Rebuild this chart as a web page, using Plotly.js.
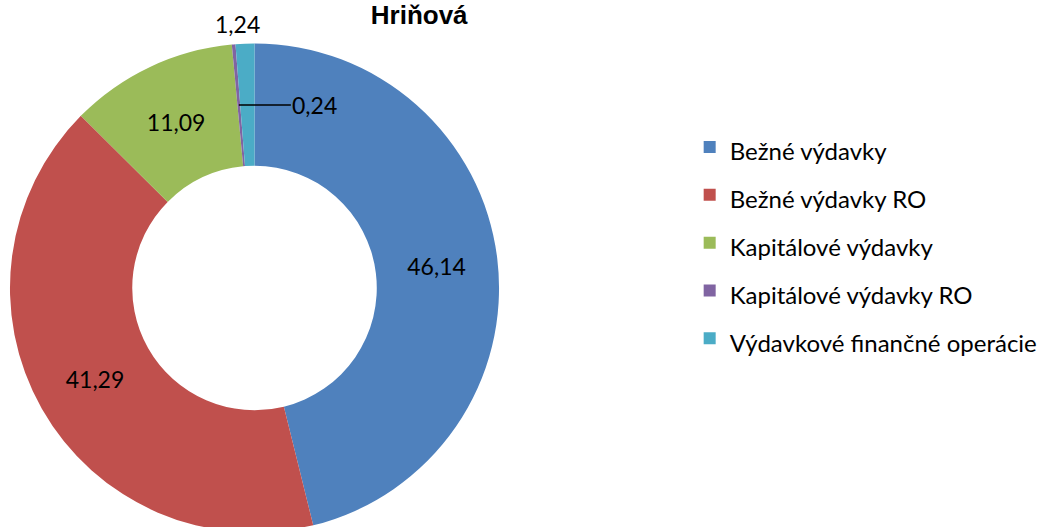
<!DOCTYPE html>
<html>
<head>
<meta charset="utf-8">
<script src="https://cdn.plot.ly/plotly-3.0.1.min.js"></script>
<style>
  html, body { margin: 0; padding: 0; overflow: hidden; background: #fff; }
  #chart { width: 1043px; height: 540px; }
</style>
</head>
<body>
<div id="chart"></div>
<script>
// ---- data ----
const categories = ['Bežné výdavky', 'Bežné výdavky RO', 'Kapitálové výdavky', 'Kapitálové výdavky RO', 'Výdavkové finančné operácie'];
const values = [46.14, 41.29, 11.09, 0.24, 1.24];
const colors = ['#4F81BD', '#C0504D', '#9BBB59', '#8064A2', '#4BACC6'];
const chartTitle = 'Hriňová';

// ---- geometry ----
const W = 1043, H = 540;
const cx = 255, cy = 288, R = 245, hole = 0.5;
const labelFont = 'Lato, "Open Sans", sans-serif';
const fs = 23;
const legendFs = 24;

const total = values.reduce((a, b) => a + b, 0);
let cum = 0;
const mids = values.map(v => { const m = (cum + v / 2) / total; cum += v; return m * 2 * Math.PI; });
const fmt = v => v.toFixed(2).replace('.', ',');
const toPaper = (px, py) => ({ x: px / W, y: 1 - py / H });

const isSmall = values.map(v => v / total < 0.05);

// small-slice labels computed from slice angles
const annotations = [];
values.forEach((v, i) => {
  if (!isSmall[i]) return;
  const th = mids[i];
  if (i === 3) {
    const r = R * (1 + hole) / 2;
    const p = toPaper(cx + r * Math.sin(th), cy - r * Math.cos(th));
    annotations.push({
      xref: 'paper', yref: 'paper', x: p.x, y: p.y,
      text: fmt(v), showarrow: true, arrowhead: 0, arrowwidth: 1.5, arrowcolor: '#000',
      ax: 76, ay: 0, standoff: 0, font: { family: labelFont, size: fs, color: '#000' }
    });
  } else {
    const r = R + 19;
    const p = toPaper(cx + r * Math.sin(th), cy - r * Math.cos(th));
    annotations.push({
      xref: 'paper', yref: 'paper', x: p.x, y: p.y, xshift: -7,
      text: fmt(v), showarrow: false, xanchor: 'center', yanchor: 'middle',
      font: { family: labelFont, size: fs, color: '#000' }
    });
  }
});

const trace = {
  type: 'pie',
  labels: categories.map(c => '<span style="font-size:' + legendFs + 'px">' + c + '</span>'),
  values: values,
  hole: hole,
  sort: false,
  direction: 'clockwise',
  rotation: 0,
  marker: { colors: colors, line: { width: 0 } },
  textposition: isSmall.map(s => s ? 'none' : 'inside'),
  texttemplate: '%{value:.2f}',
  insidetextorientation: 'horizontal',
  insidetextfont: { family: labelFont, size: fs, color: '#000' },
  domain: { x: [(cx - R) / W, (cx + R) / W], y: [1 - (cy + R) / H, 1 - (cy - R) / H] },
  hoverinfo: 'label+value'
};

const layout = {
  width: W, height: H,
  margin: { l: 0, r: 0, t: 0, b: 0 },
  separators: ', ',
  paper_bgcolor: '#fff',
  title: {
    text: '<b>' + chartTitle + '</b>',
    font: { family: '"Liberation Sans", Arial, sans-serif', size: 26, color: '#000' },
    x: 420 / W, xanchor: 'center', xref: 'paper',
    y: 1 - 14.5 / H, yanchor: 'middle', yref: 'container'
  },
  showlegend: true,
  legend: {
    x: 691 / W, xanchor: 'left',
    y: 1 - 118 / H, yanchor: 'top',
    font: { family: labelFont, size: 34.5, color: '#000' },
    bgcolor: 'rgba(0,0,0,0)'
  },
  annotations: annotations
};

Plotly.newPlot('chart', [trace], layout, { displayModeBar: false, staticPlot: true });
</script>
</body>
</html>
